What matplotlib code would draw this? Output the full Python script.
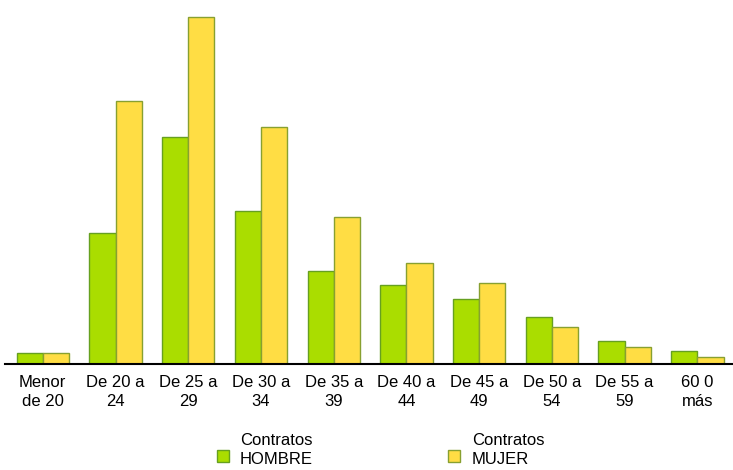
import matplotlib.pyplot as plt
import numpy as np
from matplotlib.patches import Rectangle

plt.rcParams['font.family'] = ['Liberation Sans', 'DejaVu Sans']

# age groups and contract counts (arbitrary units)
grupos = ['Menor\nde 20', 'De 20 a\n24', 'De 25 a\n29', 'De 30 a\n34', 'De 35 a\n39',
          'De 40 a\n44', 'De 45 a\n49', 'De 50 a\n54', 'De 55 a\n59', '60 0\nmás']
hombre = [11, 131, 227, 153, 93, 79, 65, 47, 23, 13]
mujer = [11, 263, 347, 237, 147, 101, 81, 37, 17, 7]
series = ['Contratos\nHOMBRE', 'Contratos\nMUJER']
colores = ['#aadd00', '#ffdd44']
bordes = ['#66a020', '#88a030']

x = np.arange(len(grupos))
width = 0.36

fig = plt.figure(figsize=(7.33, 4.70), dpi=100)
ax = fig.add_axes([0.0068, 0.2255, 0.9932, 0.7745])

ax.bar(x - width/2, hombre, width, color=colores[0], edgecolor=bordes[0], linewidth=1)
ax.bar(x + width/2, mujer, width, color=colores[1], edgecolor=bordes[1], linewidth=1)

ax.set_xlim(-0.52, 9.49)
ax.set_ylim(0, 364)
ax.set_xticks(x)
ax.set_xticklabels(grupos, fontsize=12, linespacing=1.3)
ax.tick_params(axis='x', length=0, pad=8)
ax.set_yticks([])
for s in ['top', 'right', 'left']:
    ax.spines[s].set_visible(False)
ax.spines['bottom'].set_linewidth(1.5)
ax.spines['bottom'].set_color('black')

# legend: square marker next to two-line label
for xm, xt, lab, c, e in zip([0.296, 0.611], [0.327, 0.644], series, colores, bordes):
    fig.patches.append(Rectangle((xm, 0.017), 0.0164, 0.0255, transform=fig.transFigure,
                                 facecolor=c, edgecolor=e, linewidth=1))
    fig.text(xt, 0.078, lab, fontsize=12, va='top', ha='left', linespacing=1.3)

plt.savefig('out.png', dpi=100)
